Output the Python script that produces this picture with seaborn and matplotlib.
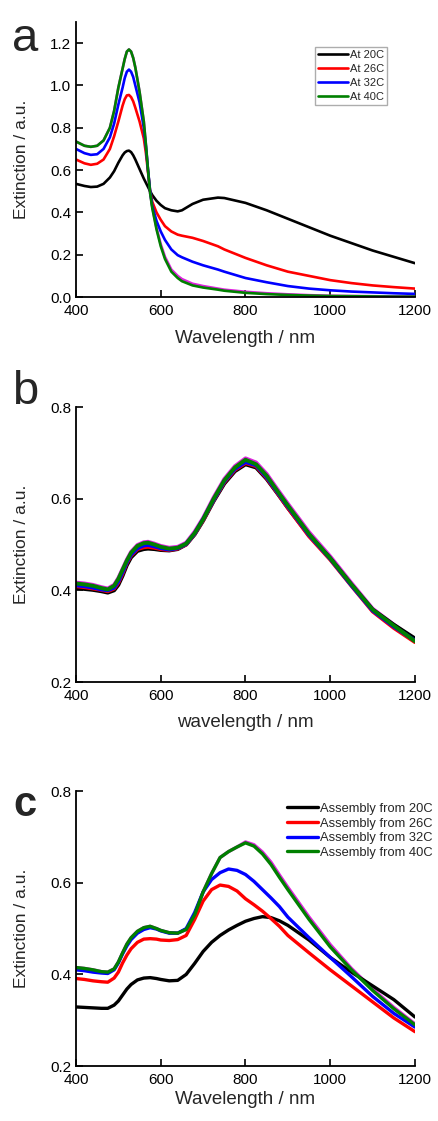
import numpy as np
import pandas as pd
import matplotlib
matplotlib.use("Agg")
import matplotlib.pyplot as plt
import seaborn as sns

# ---------------- data: panel a ----------------
wl_a = [400, 420, 435, 450, 465, 480, 490, 500, 510, 515, 520, 525, 530, 535, 540, 550,
        560, 565, 570, 575, 580, 590, 600, 610, 625, 640, 650, 675, 700, 735, 750, 800,
        850, 900, 950, 1000, 1050, 1100, 1150, 1200]
a_20 = [.535, .525, .52, .522, .535, .565, .595, .635, .67, .683, .69, .692, .685, .67, .65, .605,
        .56, .54, .52, .50, .482, .455, .435, .42, .41, .405, .41, .44, .46, .47, .468, .445,
        .41, .37, .33, .29, .255, .22, .19, .16]
a_26 = [.65, .632, .625, .63, .65, .70, .76, .83, .905, .935, .953, .955, .945, .925, .895, .83,
        .75, .68, .59, .50, .45, .40, .365, .335, .31, .295, .29, .28, .265, .24, .225, .185,
        .15, .12, .10, .08, .066, .055, .047, .04]
a_32 = [.70, .68, .672, .675, .70, .755, .82, .91, .99, 1.035, 1.065, 1.075, 1.065, 1.04, 1.0, .92,
        .80, .71, .60, .50, .43, .36, .31, .27, .225, .198, .188, .167, .15, .13, .12, .09,
        .07, .052, .04, .032, .026, .022, .018, .015]
a_40 = [.735, .715, .71, .715, .74, .80, .88, .99, 1.08, 1.125, 1.16, 1.17, 1.16, 1.13, 1.085, .97,
        .83, .72, .60, .49, .42, .32, .24, .18, .12, .09, .075, .055, .045, .035, .03, .02,
        .014, .01, .007, .005, .004, .003, .002, .002]
a_mg = [.735, .715, .71, .715, .74, .80, .88, .99, 1.08, 1.125, 1.16, 1.17, 1.16, 1.13, 1.085, .97,
        .83, .72, .60, .49, .425, .327, .25, .19, .13, .10, .085, .063, .052, .04, .035, .025,
        .018, .013, .009, .006, .005, .004, .003, .003]
labels_a = ["At 20C", "At 26C", "At 32C", "At 40C"]

# ---------------- data: panel b ----------------
wl_b = [400, 420, 440, 460, 475, 490, 500, 510, 520, 530, 545, 560, 570, 585, 600, 620, 640,
        660, 680, 700, 725, 750, 775, 800, 825, 850, 875, 900, 950, 1000, 1050, 1100, 1150, 1200]
b_20 = [.405, .403, .401, .398, .395, .40, .412, .432, .455, .472, .486, .49, .491, .49, .488,
        .487, .49, .50, .522, .552, .595, .633, .66, .675, .668, .643, .612, .58, .52, .47,
        .412, .358, .325, .295]
b_26 = [.409, .407, .404, .401, .398, .404, .417, .437, .46, .476, .49, .494, .495, .493, .49,
        .488, .491, .5, .523, .553, .597, .636, .663, .678, .671, .645, .613, .58, .518, .467,
        .41, .354, .318, .287]
b_32 = [.411, .409, .406, .402, .40, .406, .42, .44, .462, .478, .492, .498, .499, .496, .492,
        .489, .492, .501, .524, .555, .598, .638, .665, .68, .673, .647, .615, .583, .521, .469,
        .411, .356, .321, .29]
b_40 = [.415, .413, .41, .405, .402, .41, .425, .445, .465, .482, .497, .503, .504, .50, .495,
        .491, .493, .502, .525, .555, .60, .64, .668, .685, .675, .65, .617, .585, .523, .47,
        .413, .358, .323, .289]
b_mg = [.417, .415, .412, .407, .404, .412, .427, .447, .467, .484, .499, .505, .506, .502, .497,
        .493, .495, .504, .528, .558, .603, .643, .671, .688, .679, .654, .621, .589, .527, .474,
        .416, .36, .325, .292]

# ---------------- data: panel c ----------------
wl_c = [400, 420, 440, 460, 475, 490, 500, 510, 520, 530, 545, 560, 575, 590, 600, 620, 640,
        660, 680, 700, 720, 740, 760, 780, 800, 820, 840, 860, 880, 900, 950, 1000, 1050,
        1100, 1150, 1200]
c_20 = [.329, .328, .327, .326, .326, .333, .342, .355, .368, .378, .388, .392, .393, .391, .389,
        .386, .387, .40, .424, .45, .47, .485, .497, .507, .516, .522, .526, .524, .517, .507,
        .475, .437, .405, .375, .345, .307]
c_26 = [.391, .389, .386, .384, .383, .392, .405, .425, .442, .456, .47, .477, .478, .477, .475,
        .474, .476, .485, .52, .56, .585, .595, .592, .582, .565, .552, .538, .522, .505, .485,
        .447, .41, .375, .34, .305, .275]
c_32 = [.41, .408, .405, .403, .402, .41, .425, .445, .462, .476, .49, .498, .502, .499, .495,
        .49, .49, .50, .535, .58, .607, .622, .63, .627, .618, .603, .585, .567, .548, .525,
        .48, .437, .395, .352, .315, .285]
c_40 = [.415, .413, .41, .406, .405, .412, .427, .447, .466, .48, .494, .502, .505, .50, .496,
        .491, .49, .498, .53, .58, .62, .655, .668, .678, .687, .68, .663, .64, .612, .585,
        .52, .46, .41, .365, .325, .29]
c_mg = [.415, .413, .41, .406, .405, .412, .427, .447, .466, .48, .494, .502, .505, .50, .496,
        .491, .49, .498, .53, .58, .62, .655, .668, .678, .689, .683, .667, .645, .617, .59,
        .525, .465, .413, .368, .328, .292]
labels_c = ["Assembly from 20C", "Assembly from 26C", "Assembly from 32C", "Assembly from 40C"]

colors = ["black", "red", "blue", "green"]
magenta = "#e020e0"

sns.set_style("ticks")
plt.rcParams["font.family"] = ["Liberation Sans", "DejaVu Sans"]
plt.rcParams["xtick.direction"] = "in"
plt.rcParams["ytick.direction"] = "in"

fig = plt.figure(figsize=(4.38, 11.21), dpi=100)
ax_a = fig.add_axes([0.1735, 0.735, 0.774, 0.2454])
ax_b = fig.add_axes([0.1735, 0.3916, 0.774, 0.2453])
ax_c = fig.add_axes([0.1735, 0.049, 0.774, 0.2453])


def draw(ax, wl, series, labels, mg, lw):
    sns.lineplot(x=wl, y=mg, ax=ax, color=magenta, lw=lw, legend=False)
    for ys, col, lab in zip(series, colors, labels):
        sns.lineplot(x=wl, y=ys, ax=ax, color=col, lw=lw, label=lab)


draw(ax_a, wl_a, [a_20, a_26, a_32, a_40], labels_a, a_mg, 1.9)
draw(ax_b, wl_b, [b_20, b_26, b_32, b_40], labels_a, b_mg, 2.8)
draw(ax_c, wl_c, [c_20, c_26, c_32, c_40], labels_c, c_mg, 2.4)

for ax in (ax_a, ax_b, ax_c):
    ax.set_xlim(400, 1200)
    ax.set_xticks([400, 600, 800, 1000, 1200])
    ax.tick_params(labelsize=11, length=5, width=1.2, colors="black")
    ax.tick_params(axis="x", pad=5)
    for s in ("left", "bottom"):
        ax.spines[s].set_linewidth(1.3)
        ax.spines[s].set_color("black")
    ax.spines["top"].set_visible(False)
    ax.spines["right"].set_visible(False)
    ax.set_ylabel("Extinction / a.u.", fontsize=12.5)

ax_a.set_ylim(0, 1.3)
ax_a.set_yticks([0.0, 0.2, 0.4, 0.6, 0.8, 1.0, 1.2])
ax_a.set_yticklabels(["0.0", "0.2", "0.4", "0.6", "0.8", "1.0", "1.2"])
ax_a.set_xlabel("Wavelength / nm", fontsize=13.5)

for ax in (ax_b, ax_c):
    ax.set_ylim(0.2, 0.8)
    ax.set_yticks([0.2, 0.4, 0.6, 0.8])
    ax.set_yticklabels(["0.2", "0.4", "0.6", "0.8"])
ax_b.set_xlabel("wavelength / nm", fontsize=13.5)
ax_c.set_xlabel("Wavelength / nm", fontsize=13.5)

for ax in (ax_a, ax_b, ax_c):
    ax.yaxis.set_label_coords(-0.14, 0.5)
ax_a.xaxis.set_label_coords(0.5, -0.118)
ax_b.xaxis.set_label_coords(0.5, -0.118)
ax_c.xaxis.set_label_coords(0.5, -0.092)

ax_b.get_legend().remove()

leg_a = ax_a.legend(loc="upper right", bbox_to_anchor=(0.935, 0.93), fontsize=8,
                    frameon=True, fancybox=False, edgecolor="#999999", handlelength=2.7,
                    handletextpad=0.15, labelspacing=0.35, borderpad=0.3)
leg_a.get_frame().set_linewidth(1.0)

leg_c = ax_c.legend(loc="upper right", bbox_to_anchor=(1.075, 0.985), fontsize=9.3,
                    frameon=False, handlelength=2.4, handletextpad=0.15,
                    labelspacing=0.2, borderpad=0.1)

fig.text(0.028, 0.985, "a", fontsize=34, va="top", ha="left")
fig.text(0.028, 0.67, "b", fontsize=34, va="top", ha="left")
fig.text(0.03, 0.30, "c", fontsize=30, va="top", ha="left", fontweight="bold")

fig.savefig("out.png", dpi=100)
